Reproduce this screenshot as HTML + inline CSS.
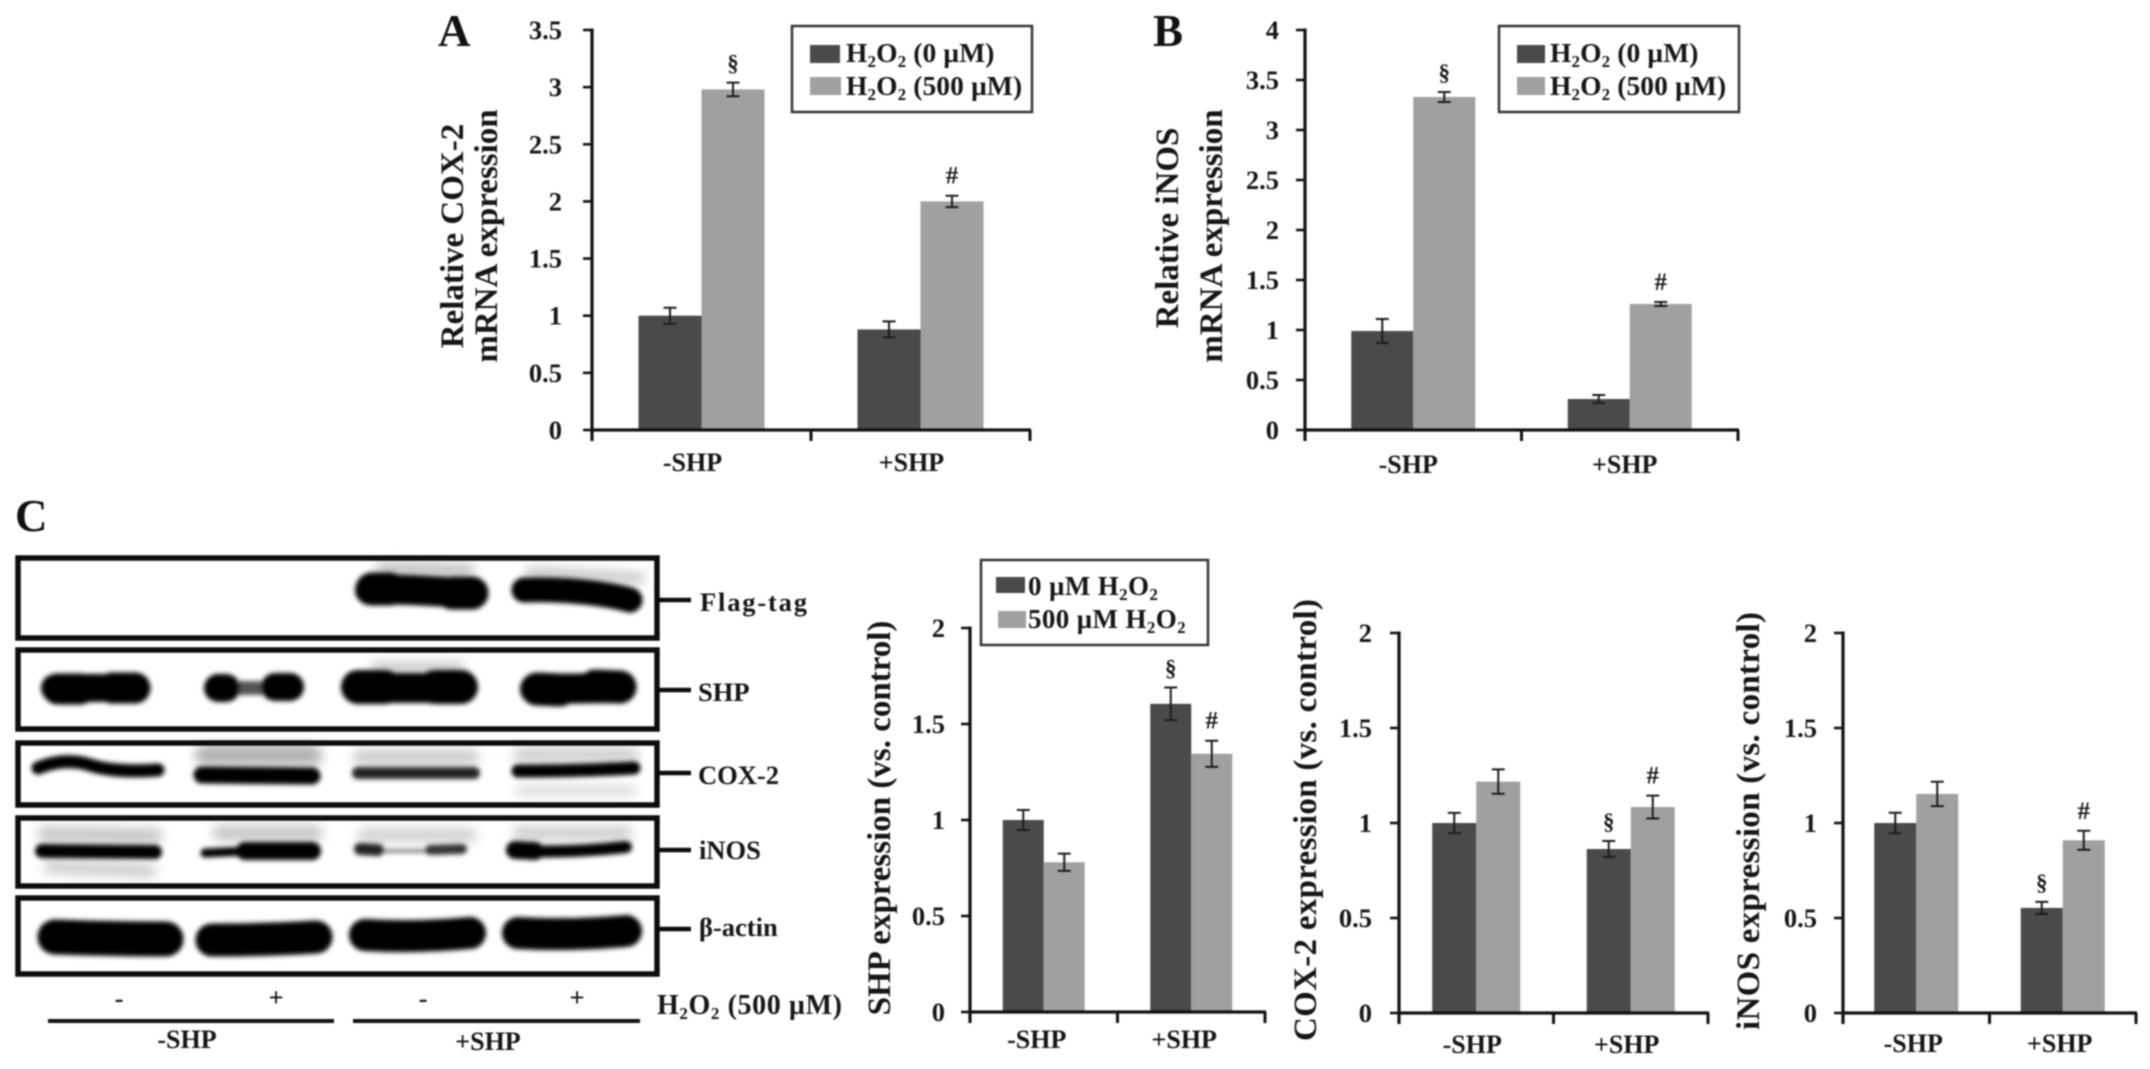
<!DOCTYPE html>
<html lang="en">
<head>
<meta charset="utf-8">
<title>SHP expression figure</title>
<style>
  html,body{margin:0;padding:0;background:#fff;}
  #figure{display:block;filter:blur(0.7px);}
  text{font-family:"Liberation Serif",serif;font-weight:bold;fill:#161616;}
  .legend-text{font-size:27.5px;letter-spacing:0.1px;}
  .legend-text-c{font-size:27px;letter-spacing:0.35px;}
  .axis-title{font-size:33px;}
  .panel-letter{font-size:45px;fill:#111;}
  .blot-label{font-size:26.5px;}
  .tick-label{font-size:26.5px;}
  .cat-label{font-size:26px;}
</style>
</head>
<body>
<svg id="figure" xmlns="http://www.w3.org/2000/svg" width="2150" height="1069" viewBox="0 0 2150 1069">
  <defs>
    <filter id="bandBlur" x="-20%" y="-60%" width="140%" height="220%"><feGaussianBlur stdDeviation="2.4"/></filter>
    <filter id="haloBlur" x="-20%" y="-60%" width="140%" height="220%"><feGaussianBlur stdDeviation="5.5"/></filter>
  </defs>
  <rect width="2150" height="1069" fill="#fff"/>

  <text class="panel-letter" x="438" y="46">A</text>
  <text class="panel-letter" x="1153" y="46">B</text>
  <text class="panel-letter" x="15" y="531">C</text>

  <text class="axis-title" transform="translate(463 236) rotate(-90)" text-anchor="middle">Relative COX-2</text>
  <text class="axis-title" transform="translate(497 236) rotate(-90)" text-anchor="middle">mRNA expression</text>
  <text class="axis-title" transform="translate(1178 228) rotate(-90)" text-anchor="middle">Relative iNOS</text>
  <text class="axis-title" transform="translate(1222 236) rotate(-90)" text-anchor="middle">mRNA expression</text>
  <text class="axis-title" transform="translate(890 818) rotate(-90)" text-anchor="middle">SHP expression (vs. control)</text>
  <text class="axis-title" transform="translate(1316 820) rotate(-90)" text-anchor="middle" textLength="442">COX-2 expression (vs. control)</text>
  <text class="axis-title" transform="translate(1759 821) rotate(-90)" text-anchor="middle" textLength="418">iNOS expression (vs. control)</text>

  <g id="charts"></g>

  <g>
    <rect x="792" y="26" width="240" height="86" fill="#fff" stroke="#333" stroke-width="2.5"/>
    <rect x="810" y="45" width="30" height="18" fill="#4a4a4a"/>
    <rect x="810" y="77" width="31" height="18" fill="#a0a0a0"/>
    <text class="legend-text" x="846" y="62">H<tspan dy="5" font-size="17">2</tspan><tspan dy="-5">O</tspan><tspan dy="5" font-size="17">2</tspan><tspan dy="-5"> (0 µM)</tspan></text>
    <text class="legend-text" x="846" y="95">H<tspan dy="5" font-size="17">2</tspan><tspan dy="-5">O</tspan><tspan dy="5" font-size="17">2</tspan><tspan dy="-5"> (500 µM)</tspan></text>
  </g>
  <g>
    <rect x="1499" y="26" width="240" height="86" fill="#fff" stroke="#333" stroke-width="2.5"/>
    <rect x="1517" y="45" width="28" height="18" fill="#4a4a4a"/>
    <rect x="1517" y="77" width="28" height="18" fill="#a0a0a0"/>
    <text class="legend-text" x="1550" y="62">H<tspan dy="5" font-size="17">2</tspan><tspan dy="-5">O</tspan><tspan dy="5" font-size="17">2</tspan><tspan dy="-5"> (0 µM)</tspan></text>
    <text class="legend-text" x="1550" y="95">H<tspan dy="5" font-size="17">2</tspan><tspan dy="-5">O</tspan><tspan dy="5" font-size="17">2</tspan><tspan dy="-5"> (500 µM)</tspan></text>
  </g>
  <g>
    <rect x="981" y="560" width="227" height="85" fill="#fff" stroke="#333" stroke-width="2.5"/>
    <rect x="996" y="577" width="29" height="16" fill="#4a4a4a"/>
    <rect x="998" y="611" width="28" height="17" fill="#a0a0a0"/>
    <text class="legend-text-c" x="1028" y="595">0 µM H<tspan dy="5" font-size="17">2</tspan><tspan dy="-5">O</tspan><tspan dy="5" font-size="17">2</tspan></text>
    <text class="legend-text-c" x="1028" y="628">500 µM H<tspan dy="5" font-size="17">2</tspan><tspan dy="-5">O</tspan><tspan dy="5" font-size="17">2</tspan></text>
  </g>

  <g>
    <g filter="url(#haloBlur)" fill="none" stroke-linecap="round">
      <path d="M380 568 L470 570" stroke="#aaa" stroke-width="9"/>
      <path d="M530 572 L640 578" stroke="#bbb" stroke-width="9"/>
      <path d="M375 667 L460 667" stroke="#aaa" stroke-width="7"/>
      <path d="M205 755 L312 755" stroke="#b0b0b0" stroke-width="20"/>
      <path d="M360 757 L472 757" stroke="#c8c8c8" stroke-width="14"/>
      <path d="M520 755 L632 755" stroke="#cccccc" stroke-width="14"/>
      <path d="M520 791 L632 791" stroke="#d8d8d8" stroke-width="10"/>
      <path d="M45 834 L155 836" stroke="#c4c4c4" stroke-width="15"/>
      <path d="M50 867 L150 871" stroke="#c8c8c8" stroke-width="12"/>
      <path d="M220 833 L315 833" stroke="#c4c4c4" stroke-width="15"/>
      <path d="M365 835 L470 835" stroke="#d0d0d0" stroke-width="14"/>
      <path d="M520 833 L625 833" stroke="#cccccc" stroke-width="14"/>
    </g>
    <g filter="url(#bandBlur)" fill="none" stroke="#000" stroke-linecap="round">
      <g>
        <path d="M370 590 C400 588 440 592 470 593" stroke-width="30"/>
        <path d="M372 589 L390 589" stroke-width="33"/>
        <path d="M452 593 L472 593" stroke-width="33"/>
      </g>
      <path d="M524 590 C560 589 600 592 630 600" stroke-width="25"/>
      <g>
        <path d="M55 688 L135 688" stroke-width="28"/>
        <path d="M58 689 L80 689" stroke-width="31"/>
        <path d="M112 688 L135 688" stroke-width="31"/>
      </g>
      <g>
        <path d="M226 688 L280 688" stroke-width="14" stroke="#555"/>
        <path d="M218 688 L226 688" stroke-width="28"/>
        <path d="M275 687 L290 687" stroke-width="28"/>
      </g>
      <g>
        <path d="M358 688 L461 688" stroke-width="30"/>
        <path d="M358 687 L385 687" stroke-width="34"/>
        <path d="M435 687 L461 687" stroke-width="34"/>
      </g>
      <g>
        <path d="M535 689 L621 688" stroke-width="30"/>
        <path d="M537 689 L560 690" stroke-width="33"/>
        <path d="M595 686 L620 687" stroke-width="33"/>
      </g>
      <path d="M38 768 Q65 757 90 765 T158 770" stroke-width="13"/>
      <path d="M202 775 L312 776" stroke-width="17"/>
      <path d="M358 773 L474 773" stroke-width="12" stroke="#222"/>
      <path d="M518 771 Q580 771 634 768" stroke-width="13"/>
      <path d="M42 851 L155 852" stroke-width="14"/>
      <g>
        <path d="M205 853 Q260 850 316 851" stroke-width="9"/>
        <path d="M245 851 L312 851" stroke-width="18"/>
      </g>
      <g>
        <path d="M378 851 L430 851" stroke-width="4" stroke="#888"/>
        <path d="M360 849 L378 850" stroke-width="12" stroke="#222"/>
        <path d="M430 850 L462 849" stroke-width="10" stroke="#333"/>
      </g>
      <g>
        <path d="M515 851 Q570 853 626 847" stroke-width="12"/>
        <path d="M515 850 L535 851" stroke-width="18"/>
      </g>
      <path d="M55 937 Q110 939 166 939" stroke-width="35"/>
      <path d="M212 940 Q265 940 316 937" stroke-width="33"/>
      <path d="M365 935 Q415 938 470 933" stroke-width="32"/>
      <path d="M518 933 Q570 936 626 931" stroke-width="32"/>
    </g>
    <g fill="none" stroke="#0c0c0c" stroke-width="5.5">
      <rect x="18" y="558" width="639" height="80"/>
      <rect x="18" y="650" width="639" height="79"/>
      <rect x="18" y="743" width="639" height="62"/>
      <rect x="18" y="818" width="639" height="68"/>
      <rect x="18" y="898" width="639" height="76"/>
    </g>
    <g stroke="#0c0c0c" stroke-width="4.5">
      <line x1="658" x2="691" y1="600" y2="600"/>
      <line x1="658" x2="691" y1="690" y2="690"/>
      <line x1="658" x2="691" y1="773" y2="773"/>
      <line x1="658" x2="691" y1="850" y2="850"/>
      <line x1="658" x2="691" y1="929" y2="929"/>
    </g>
    <text class="blot-label" x="700" y="611" textLength="107">Flag-tag</text>
    <text class="blot-label" x="698" y="701">SHP</text>
    <text class="blot-label" x="698" y="784">COX-2</text>
    <text class="blot-label" x="699" y="859">iNOS</text>
    <text class="blot-label" x="699" y="936">β-actin</text>

    <text class="tick-label" x="119" y="1007" text-anchor="middle">-</text>
    <text class="tick-label" x="276" y="1006" text-anchor="middle">+</text>
    <text class="tick-label" x="423" y="1007" text-anchor="middle">-</text>
    <text class="tick-label" x="577" y="1006" text-anchor="middle">+</text>
    <text x="657" y="1014" font-size="28" letter-spacing="0.6">H<tspan dy="5" font-size="17">2</tspan><tspan dy="-5">O</tspan><tspan dy="5" font-size="17">2</tspan><tspan dy="-5"> (500 µM)</tspan></text>
    <line x1="48" x2="334" y1="1021" y2="1021" stroke="#111" stroke-width="4"/>
    <line x1="353" x2="640" y1="1021" y2="1021" stroke="#111" stroke-width="4"/>
    <text class="cat-label" x="187" y="1048" text-anchor="middle">-SHP</text>
    <text class="cat-label" x="488" y="1050" text-anchor="middle">+SHP</text>
  </g>
</svg>

<script>
// ---- chart data ----
const categories = ['-SHP', '+SHP'];

const panelATicks = ['0', '0.5', '1', '1.5', '2', '2.5', '3', '3.5'];
const panelAControl = [1.0, 0.88];
const panelATreated = [2.98, 2.0];
const panelAControlErr = [0.07, 0.07];
const panelATreatedErr = [0.06, 0.05];
const panelAControlMarks = ['', ''];
const panelATreatedMarks = ['§', '#'];

const panelBTicks = ['0', '0.5', '1', '1.5', '2', '2.5', '3', '3.5', '4'];
const panelBControl = [0.99, 0.31];
const panelBTreated = [3.33, 1.26];
const panelBControlErr = [0.12, 0.04];
const panelBTreatedErr = [0.05, 0.02];
const panelBControlMarks = ['', ''];
const panelBTreatedMarks = ['§', '#'];

const expressionTicks = ['0', '0.5', '1', '1.5', '2'];

const shpControl = [1.0, 1.605];
const shpTreated = [0.78, 1.345];
const shpControlErr = [0.052, 0.085];
const shpTreatedErr = [0.045, 0.068];
const shpControlMarks = ['', '§'];
const shpTreatedMarks = ['', '#'];

const coxControl = [1.0, 0.863];
const coxTreated = [1.218, 1.084];
const coxControlErr = [0.053, 0.042];
const coxTreatedErr = [0.064, 0.06];
const coxControlMarks = ['', '§'];
const coxTreatedMarks = ['', '#'];

const inosControl = [1.0, 0.553];
const inosTreated = [1.153, 0.909];
const inosControlErr = [0.054, 0.032];
const inosTreatedErr = [0.064, 0.05];
const inosControlMarks = ['', '§'];
const inosTreatedMarks = ['', '#'];

const SVG_NS = 'http://www.w3.org/2000/svg';

function mk(tag, attrs, parent, txt) {
  const el = document.createElementNS(SVG_NS, tag);
  for (const k in attrs) el.setAttribute(k, attrs[k]);
  if (txt !== undefined) el.textContent = txt;
  parent.appendChild(el);
  return el;
}

function drawChart(c) {
  const root = document.getElementById('charts');
  const g = mk('g', {}, root);
  
  

  const tickValues = c.ticks.map(Number);
  const maxV = tickValues[tickValues.length - 1];
  const yScale = v => c.zero - (v / maxV) * (c.zero - c.top);
  const band = (c.right - c.left) / c.cats.length;
  const xCenter = i => c.left + (i + 0.5) * band;

  // bars (drawn first so axes sit on top)
  const seriesList = [
    {key: 'control', vals: c.control, errs: c.controlErr, marks: c.controlMarks, fill: '#4a4a4a', side: -1},
    {key: 'treated', vals: c.treated, errs: c.treatedErr, marks: c.treatedMarks, fill: '#a0a0a0', side: 1}
  ];
  seriesList.forEach(s => {
    s.vals.forEach((v, i) => {
      const x0 = s.side < 0 ? xCenter(i) - c.barW : xCenter(i);
      const bar = mk('rect', {x: x0, y: yScale(v), width: c.barW, height: c.zero - yScale(v), fill: s.fill}, g);
      
      
    });
  });
  seriesList.forEach(s => {
    s.vals.forEach((v, i) => {
      const cx = xCenter(i) + s.side * c.barW / 2;
      const yHi = yScale(v + s.errs[i]);
      const yLo = yScale(v - s.errs[i]);
      const err = mk('path', {
        d: 'M' + (cx - 6.5) + ' ' + yHi + 'H' + (cx + 6.5) + 'M' + cx + ' ' + yHi + 'V' + yLo + 'M' + (cx - 6.5) + ' ' + yLo + 'H' + (cx + 6.5),
        fill: 'none', stroke: '#1c1c1c', 'stroke-width': 2
      }, g);
      
      
      if (s.marks[i]) {
        const m = mk('text', {x: cx, y: yHi - 12, 'text-anchor': 'middle', 'font-size': s.marks[i] === '#' ? 25 : 23}, g, s.marks[i]);
        
        
      }
    });
  });

  // y axis
  const yAxis = mk('line', {x1: c.left, x2: c.left, y1: c.top - 1.5, y2: c.zero + 11, stroke: '#111', 'stroke-width': 3.2}, g);
  
  
  c.ticks.forEach((label, i) => {
    const y = yScale(tickValues[i]);
    const t = mk('line', {x1: c.left - 9, x2: c.left, y1: y, y2: y, stroke: '#111', 'stroke-width': 2.6}, g);
    
    
    const lab = mk('text', {class: 'tick-label', x: c.labelRight, y: y + 9, 'text-anchor': 'end'}, g, label);
    
    
  });

  // x axis
  const xAxis = mk('line', {x1: c.left, x2: c.right + 1, y1: c.zero, y2: c.zero, stroke: '#111', 'stroke-width': 3.2}, g);
  
  
  for (let i = 1; i <= c.cats.length; i++) {
    const x = c.left + i * band;
    const t = mk('line', {x1: x, x2: x, y1: c.zero, y2: c.zero + 11, stroke: '#111', 'stroke-width': 3}, g);
    
    
  }
  c.cats.forEach((label, i) => {
    const lab = mk('text', {class: 'cat-label', x: xCenter(i) + c.labelDx, y: c.labelY, 'text-anchor': 'middle'}, g, label);
    
    
  });
}

drawChart({name: 'panel-a', cats: categories, ticks: panelATicks,
  control: panelAControl, treated: panelATreated, controlErr: panelAControlErr, treatedErr: panelATreatedErr,
  controlMarks: panelAControlMarks, treatedMarks: panelATreatedMarks,
  left: 592, right: 1030, top: 30, zero: 430, barW: 63, labelRight: 562, labelDx: -9, labelY: 471});
drawChart({name: 'panel-b', cats: categories, ticks: panelBTicks,
  control: panelBControl, treated: panelBTreated, controlErr: panelBControlErr, treatedErr: panelBTreatedErr,
  controlMarks: panelBControlMarks, treatedMarks: panelBTreatedMarks,
  left: 1305, right: 1738, top: 30, zero: 430, barW: 62, labelRight: 1279, labelDx: -5, labelY: 473});
drawChart({name: 'shp', cats: categories, ticks: expressionTicks,
  control: shpControl, treated: shpTreated, controlErr: shpControlErr, treatedErr: shpTreatedErr,
  controlMarks: shpControlMarks, treatedMarks: shpTreatedMarks,
  left: 970, right: 1265, top: 628, zero: 1012, barW: 41, labelRight: 945, labelDx: -7, labelY: 1048});
drawChart({name: 'cox2', cats: categories, ticks: expressionTicks,
  control: coxControl, treated: coxTreated, controlErr: coxControlErr, treatedErr: coxTreatedErr,
  controlMarks: coxControlMarks, treatedMarks: coxTreatedMarks,
  left: 1399, right: 1708, top: 633, zero: 1013, barW: 44, labelRight: 1372, labelDx: -4, labelY: 1053});
drawChart({name: 'inos', cats: categories, ticks: expressionTicks,
  control: inosControl, treated: inosTreated, controlErr: inosControlErr, treatedErr: inosTreatedErr,
  controlMarks: inosControlMarks, treatedMarks: inosTreatedMarks,
  left: 1843, right: 2136, top: 633, zero: 1013, barW: 42, labelRight: 1817, labelDx: -3, labelY: 1052});
</script>
</body>
</html>
